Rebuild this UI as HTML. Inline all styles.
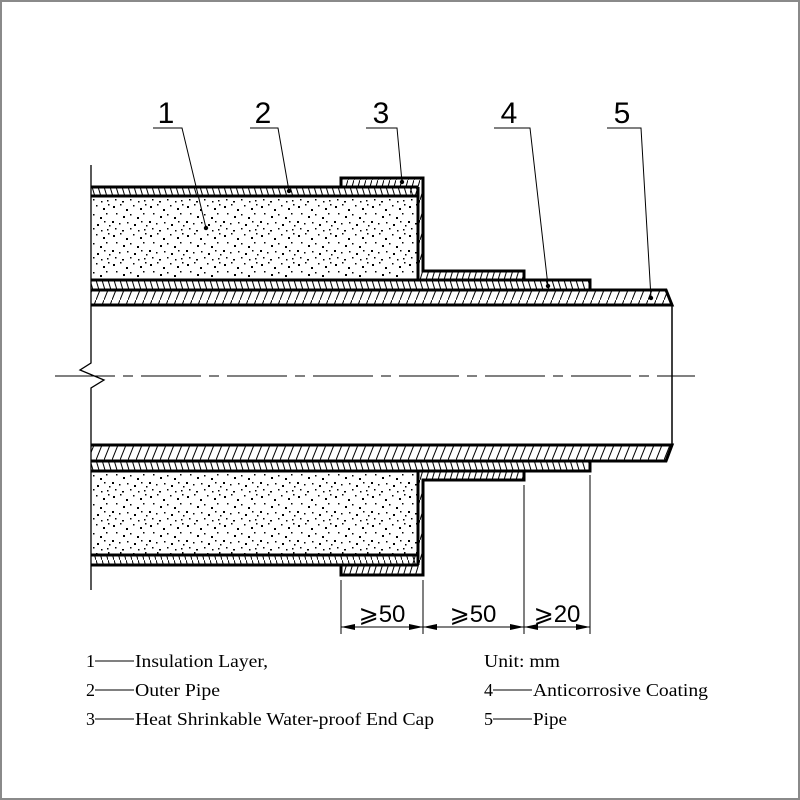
<!DOCTYPE html>
<html><head><meta charset="utf-8"><style>
html,body{margin:0;padding:0;background:#fff}
svg{display:block}
</style></head><body>
<svg width="800" height="800" viewBox="0 0 800 800" xmlns="http://www.w3.org/2000/svg">
<defs>
<pattern id="h1" width="8" height="20" patternUnits="userSpaceOnUse"><line x1="0" y1="20" x2="8" y2="0" stroke="#000" stroke-width="1"/></pattern>
<pattern id="h2" width="6" height="20" patternUnits="userSpaceOnUse"><line x1="0" y1="0" x2="6" y2="20" stroke="#000" stroke-width="1"/></pattern>
<pattern id="h3" width="6" height="20" patternUnits="userSpaceOnUse"><line x1="0" y1="20" x2="6" y2="0" stroke="#000" stroke-width="1"/></pattern>
<pattern id="st" width="37" height="29" patternUnits="userSpaceOnUse">
<g fill="#000">
<rect x="2" y="3" width="2" height="2"/><rect x="9" y="1" width="1.5" height="1.5"/><rect x="15" y="6" width="2" height="2"/><rect x="22" y="2" width="1.5" height="1.5"/><rect x="29" y="5" width="2" height="2"/><rect x="34" y="1" width="1.5" height="1.5"/>
<rect x="5" y="10" width="1.5" height="1.5"/><rect x="12" y="13" width="2" height="2"/><rect x="19" y="11" width="1.5" height="1.5"/><rect x="26" y="14" width="2" height="2"/><rect x="32" y="10" width="1.5" height="1.5"/>
<rect x="1" y="18" width="2" height="2"/><rect x="8" y="20" width="1.5" height="1.5"/><rect x="16" y="19" width="1.5" height="1.5"/><rect x="23" y="21" width="2" height="2"/><rect x="30" y="18" width="1.5" height="1.5"/><rect x="35" y="22" width="1.5" height="1.5"/>
<rect x="4" y="25" width="1.5" height="1.5"/><rect x="11" y="27" width="2" height="1.5"/><rect x="19" y="25" width="1.5" height="1.5"/><rect x="27" y="27" width="1.5" height="1.5"/><rect x="33" y="26" width="1.5" height="1.5"/>
</g></pattern>
</defs>
<rect x="1" y="1" width="798" height="798" fill="#fff" stroke="#8a8a8a" stroke-width="2"/>

<rect x="91" y="188" width="327" height="8" fill="url(#h2)"/>
<line x1="91" y1="187" x2="418" y2="187" stroke="#000" stroke-width="3"/>
<line x1="91" y1="196" x2="418" y2="196" stroke="#000" stroke-width="3"/>
<rect x="92" y="198" width="325" height="81" fill="url(#st)"/>
<path d="M341,178 H423 V271 H524 V280 H418 V196 H410 V187 H341 Z" fill="url(#h3)" stroke="none"/>
<path d="M341,187 V178 H423 V271 H524 V280" fill="none" stroke="#000" stroke-width="3"/>
<line x1="418" y1="187" x2="418" y2="280" stroke="#000" stroke-width="3"/>
<rect x="91" y="281" width="499" height="8" fill="url(#h2)"/>
<path d="M91,280 H590 V289" fill="none" stroke="#000" stroke-width="3"/>
<path d="M91,290 H666 L672,305 H91 Z" fill="url(#h1)"/>
<path d="M91,290 H666 L672,305 H91" fill="none" stroke="#000" stroke-width="3"/>
<line x1="672" y1="305" x2="672" y2="445" stroke="#000" stroke-width="1.5"/>
<path d="M91,445 H672 L666,461 H91 Z" fill="url(#h1)"/>
<path d="M91,445 H672 L666,461 H91" fill="none" stroke="#000" stroke-width="3"/>
<rect x="91" y="462" width="499" height="8" fill="url(#h2)"/>
<path d="M91,471 H590 V462" fill="none" stroke="#000" stroke-width="3"/>
<rect x="92" y="473" width="325" height="81" fill="url(#st)"/>
<path d="M341,565 V575 H423 V480 H524 V471 H418 V555 H410 V565 Z" fill="url(#h3)"/>
<path d="M341,565 V575 H423 V480 H524 V471" fill="none" stroke="#000" stroke-width="3"/>
<line x1="418" y1="471" x2="418" y2="565" stroke="#000" stroke-width="3"/>
<rect x="91" y="556" width="327" height="8" fill="url(#h2)"/>
<line x1="91" y1="555" x2="418" y2="555" stroke="#000" stroke-width="3"/>
<line x1="91" y1="565" x2="418" y2="565" stroke="#000" stroke-width="3"/>

<path d="M91,165 V363 L80,370 L104,380 L91,388 V590" fill="none" stroke="#000" stroke-width="1.3"/>
<line x1="55" y1="376" x2="695" y2="376" stroke="#000" stroke-width="1" stroke-dasharray="60 8 10 8"/>

<g stroke="#000" stroke-width="1" fill="none">
<polyline points="153,128 182,128 206,228"/>
<polyline points="250,128 278,128 289,191"/>
<polyline points="366,128 397,128 402,182"/>
<polyline points="494,128 530,128 548,286"/>
<polyline points="607,128 641,128 651,298"/>
</g>
<g fill="#000"><circle cx="206" cy="228" r="2.2"/><circle cx="289" cy="191" r="2.2"/><circle cx="402" cy="182" r="2.2"/><circle cx="548" cy="286" r="2.2"/><circle cx="651" cy="298" r="2.2"/></g>
<g font-family="Liberation Sans, sans-serif" font-size="30" text-anchor="middle" fill="#000">
<text x="166" y="123">1</text><text x="263" y="123">2</text><text x="381" y="123">3</text><text x="509" y="123">4</text><text x="622" y="123">5</text>
</g>

<g stroke="#000" stroke-width="1">
<line x1="341" y1="580" x2="341" y2="634"/><line x1="423" y1="580" x2="423" y2="634"/>
<line x1="524" y1="485" x2="524" y2="634"/><line x1="590" y1="475" x2="590" y2="634"/>
<line x1="341" y1="627" x2="590" y2="627"/>
</g>
<g fill="#000">
<path d="M341,627 l14,-3 v6z"/><path d="M423,627 l-14,-3 v6z"/>
<path d="M423,627 l14,-3 v6z"/><path d="M524,627 l-14,-3 v6z"/>
<path d="M524,627 l14,-3 v6z"/><path d="M590,627 l-14,-3 v6z"/>
</g>
<g font-family="Liberation Sans, DejaVu Sans, sans-serif" font-size="24" text-anchor="middle" fill="#000">
<text x="382" y="622">⩾50</text><text x="473" y="622">⩾50</text><text x="557" y="622">⩾20</text>
</g>

<g font-family="Liberation Serif, serif" font-size="18" fill="#000">
<text x="86" y="667">1</text><line x1="95" y1="661" x2="134" y2="661" stroke="#000" stroke-width="1"/>
<text x="135" y="667" textLength="133" lengthAdjust="spacingAndGlyphs">Insulation Layer,</text>
<text x="86" y="696">2</text><line x1="95" y1="690" x2="134" y2="690" stroke="#000" stroke-width="1"/>
<text x="135" y="696" textLength="85" lengthAdjust="spacingAndGlyphs">Outer Pipe</text>
<text x="86" y="725">3</text><line x1="95" y1="719" x2="134" y2="719" stroke="#000" stroke-width="1"/>
<text x="135" y="725" textLength="299" lengthAdjust="spacingAndGlyphs">Heat Shrinkable Water-proof End Cap</text>
<text x="484" y="667" textLength="76" lengthAdjust="spacingAndGlyphs">Unit: mm</text>
<text x="484" y="696">4</text><line x1="493" y1="690" x2="532" y2="690" stroke="#000" stroke-width="1"/>
<text x="533" y="696" textLength="175" lengthAdjust="spacingAndGlyphs">Anticorrosive Coating</text>
<text x="484" y="725">5</text><line x1="493" y1="719" x2="532" y2="719" stroke="#000" stroke-width="1"/>
<text x="533" y="725" textLength="34" lengthAdjust="spacingAndGlyphs">Pipe</text>
</g>
</svg>
</body></html>
